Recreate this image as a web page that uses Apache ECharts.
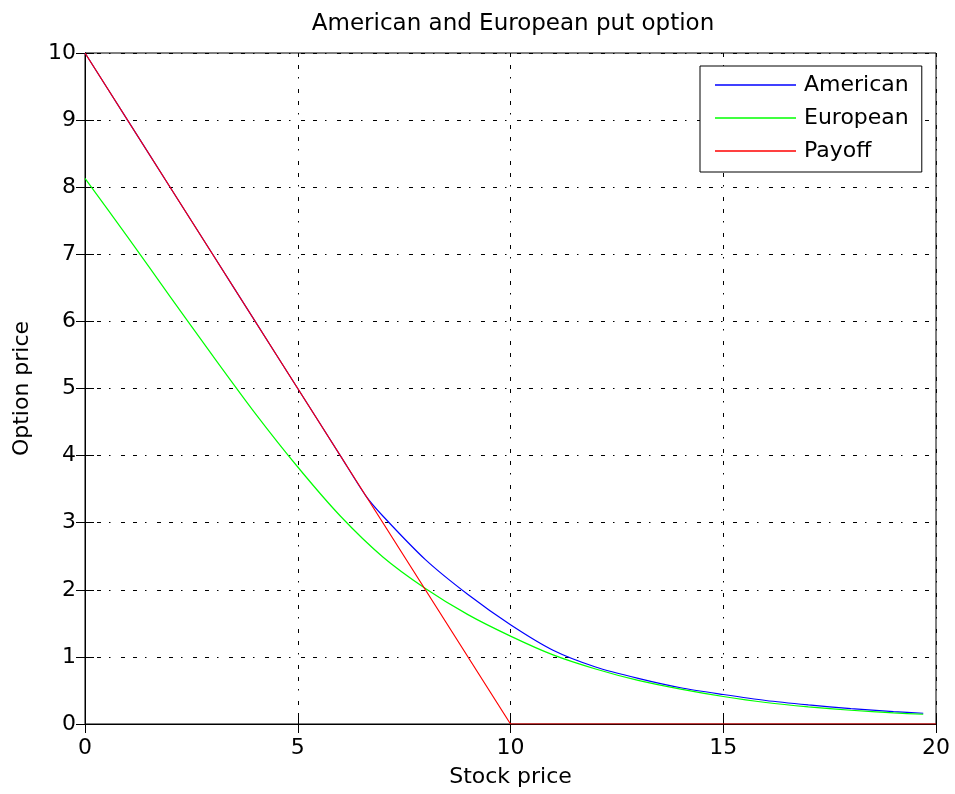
<!DOCTYPE html>
<html>
<head>
<meta charset="utf-8">
<script src="https://cdn.jsdelivr.net/npm/echarts@6/dist/echarts.min.js"></script>
<style>
  html, body { margin: 0; padding: 0; background: #fff; }
  #chart { width: 955px; height: 794px; }
</style>
</head>
<body>
<div id="chart"></div>
<script>
// Stock prices and option values (strike 10)
const stockAmerican = [0, 1, 2, 3, 4, 5, 6, 6.6, 7, 8, 9, 10, 11, 12, 13, 14, 15, 16, 17, 18, 19, 19.7];
const americanPrice = [10, 9, 8, 7, 6, 5, 4, 3.4, 3.1, 2.45, 1.93, 1.48, 1.1, 0.85, 0.68, 0.54, 0.44, 0.35, 0.285, 0.23, 0.185, 0.16];

const stockEuropean = [0, 1, 2, 3, 4, 5, 6, 7, 8, 9, 10, 11, 12, 13, 14, 15, 16, 17, 18, 19, 19.7];
const europeanPrice = [8.13, 7.26, 6.37, 5.49, 4.63, 3.83, 3.1, 2.49, 2.02, 1.63, 1.31, 1.03, 0.82, 0.65, 0.52, 0.41, 0.32, 0.255, 0.205, 0.165, 0.145];

const stockPayoff = [0, 10, 20];
const payoffValue = [10, 0, 0];

const xTicks = { min: 0, max: 20, interval: 5 };
const yTicks = { min: 0, max: 10, interval: 1 };

const pairs = (xs, ys) => xs.map((x, i) => [x, ys[i]]);

const FONT = 'DejaVu Sans';
const gridDash = [4, 8, 4, 8, 1.5, 10.5];

const chart = echarts.init(document.getElementById('chart'), null, { renderer: 'canvas' });

const baseAxis = {
  type: 'value',
  axisLine: { show: true, lineStyle: { color: '#000', width: 1 } },
  axisTick: { show: true, inside: true, length: 9, lineStyle: { color: '#000', width: 1 } },
  axisLabel: { color: '#000', fontFamily: FONT, fontSize: 22 },
  splitLine: { show: false }
};

chart.setOption({
  animation: false,
  backgroundColor: '#fff',
  title: {
    text: 'American and European put option',
    left: 508,
    top: 8,
    textAlign: 'center',
    textStyle: { color: '#000', fontFamily: FONT, fontSize: 23, fontWeight: 'normal' }
  },
  legend: {
    orient: 'vertical',
    left: 700,
    top: 66,
    padding: [8, 13, 10, 15],
    icon: 'rect',
    itemWidth: 81,
    itemHeight: 1.3,
    itemGap: 11,
    backgroundColor: '#fff',
    borderColor: '#000',
    borderWidth: 1,
    textStyle: { color: '#000', fontFamily: FONT, fontSize: 22, padding: [0, 0, 0, 3] },
    data: ['American', 'European', 'Payoff']
  },
  grid: {
    left: 85, top: 53, right: 19, bottom: 70,
    show: true, borderColor: '#000', borderWidth: 1, backgroundColor: '#fff'
  },
  xAxis: [
    Object.assign({}, baseAxis, xTicks, {
      position: 'bottom',
      name: 'Stock price',
      nameLocation: 'middle',
      nameGap: 42,
      nameTextStyle: { color: '#000', fontFamily: FONT, fontSize: 22 },
      axisLabel: Object.assign({}, baseAxis.axisLabel, { margin: 13 }),
      splitLine: { show: true, lineStyle: { color: '#000', width: 1, type: gridDash } }
    }),
    Object.assign({}, baseAxis, xTicks, {
      position: 'top',
      axisLabel: { show: false }
    })
  ],
  yAxis: [
    Object.assign({}, baseAxis, yTicks, {
      position: 'left',
      name: 'Option price',
      nameLocation: 'middle',
      nameGap: 52,
      nameTextStyle: { color: '#000', fontFamily: FONT, fontSize: 22 },
      axisLabel: Object.assign({}, baseAxis.axisLabel, { margin: 9 }),
      splitLine: { show: true, lineStyle: { color: '#000', width: 1, type: gridDash } }
    }),
    Object.assign({}, baseAxis, yTicks, {
      position: 'right',
      axisLabel: { show: false }
    })
  ],
  series: [
    {
      name: 'American', type: 'line', data: pairs(stockAmerican, americanPrice),
      symbol: 'none', smooth: 0.25,
      lineStyle: { color: '#0000ff', width: 1.2 }, itemStyle: { color: '#0000ff' }
    },
    {
      name: 'European', type: 'line', data: pairs(stockEuropean, europeanPrice),
      symbol: 'none', smooth: 0.25,
      lineStyle: { color: '#00ff00', width: 1.2 }, itemStyle: { color: '#00ff00' }
    },
    {
      name: 'Payoff', type: 'line', data: pairs(stockPayoff, payoffValue),
      symbol: 'none',
      lineStyle: { color: '#ff0000', width: 1.2 }, itemStyle: { color: '#ff0000' }
    }
  ]
});
</script>
</body>
</html>
